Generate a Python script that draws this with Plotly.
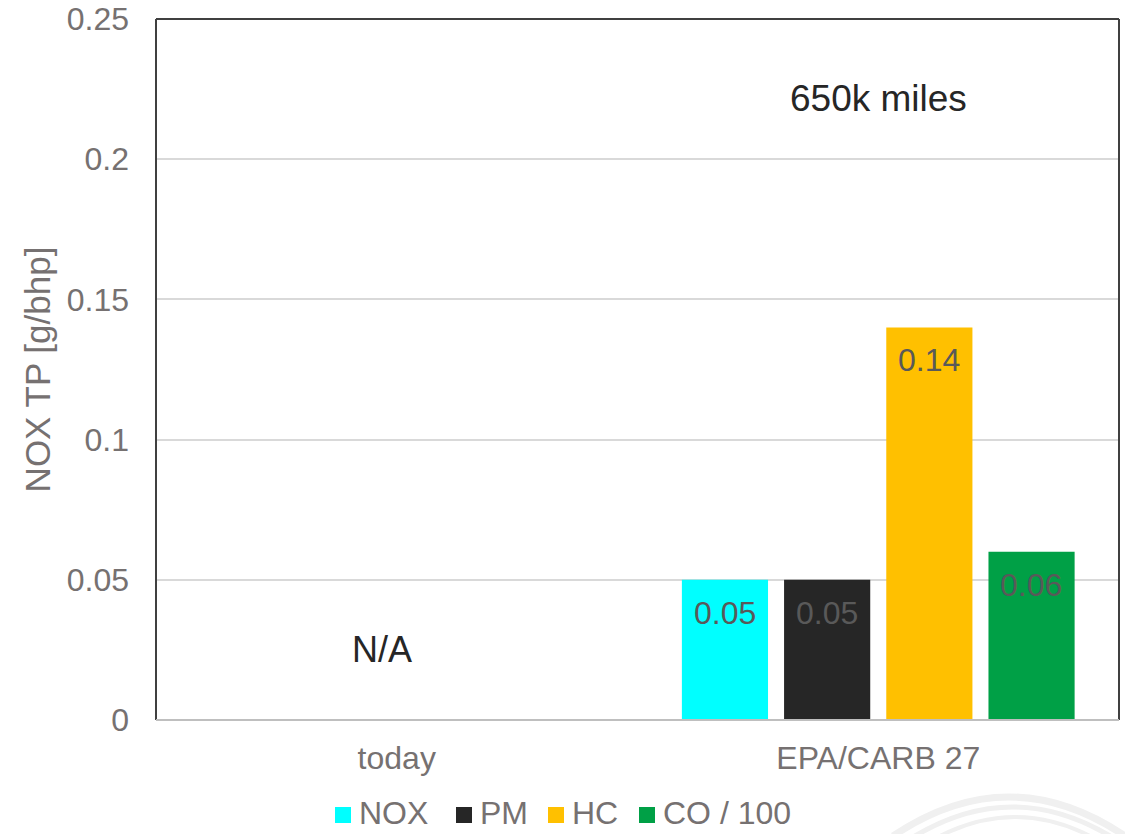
import plotly.graph_objects as go

# Emission limits per pollutant (CO is shown scaled by 1/100)
categories = ["today", "EPA/CARB 27"]
series_names = ["NOX", "PM", "HC", "CO / 100"]
nox = [None, 0.05]
pm = [None, 0.05]
hc = [None, 0.14]
co_scaled = [None, 0.06]
series_values = [nox, pm, hc, co_scaled]
colors = ["#00FFFF", "#262626", "#FFC000", "#00A046"]
y_ticks = [0, 0.05, 0.1, 0.15, 0.2, 0.25]
y_tick_text = ["0", "0.05", "0.1", "0.15", "0.2", "0.25"]

FONT = "Liberation Sans, Arial, sans-serif"
GRAY = "#767171"
LABEL = "#595959"

W, H = 1125, 834
ML, MR, MT, MB = 156, 6, 19, 114
PW, PH = W - ML - MR, H - MT - MB


def px(xp):
    return (xp - ML) / PW


def py(yp):
    return (H - MB - yp) / PH


fig = go.Figure()
for name, vals, col in zip(series_names, series_values, colors):
    fig.add_trace(go.Bar(
        x=categories, y=vals, name=name,
        marker=dict(color=col, line=dict(width=0)),
        offsetgroup=name, showlegend=False,
    ))

# Value labels just inside the top of each bar
annotations = []
n = len(series_names)
for i, vals in enumerate(series_values):
    for j, v in enumerate(vals):
        if v is None:
            continue
        annotations.append(dict(
            x=j, y=v, xref="x", yref="y",
            text=f"{v:g}", showarrow=False,
            xshift=(i - (n - 1) / 2) * 102,
            yanchor="top", yshift=-13,
            font=dict(family=FONT, size=32, color=LABEL),
        ))

annotations.append(dict(
    x=0, y=0.025, xref="x", yref="y", text="N/A", showarrow=False,
    xshift=-15,
    font=dict(family=FONT, size=36, color="#262626"),
))
annotations.append(dict(
    x=1, y=0.2215, xref="x", yref="y", text="650k miles", showarrow=False,
    font=dict(family=FONT, size=37, color="#262626"),
))

# Frame around the plot area: dark on three sides, light axis line at the bottom
shapes = [
    dict(type="line", xref="paper", yref="paper", x0=0, x1=0, y0=0, y1=1,
         line=dict(color="#404040", width=2)),
    dict(type="line", xref="paper", yref="paper", x0=0, x1=1, y0=1, y1=1,
         line=dict(color="#404040", width=2)),
    dict(type="line", xref="paper", yref="paper", x0=1, x1=1, y0=0, y1=1,
         line=dict(color="#404040", width=2)),
    dict(type="line", xref="paper", yref="paper", x0=0, x1=1, y0=0, y1=0,
         line=dict(color="#BFBFBF", width=2)),
]

# Legend row below the axis: colour square followed by the series name
legend_left = [335, 456, 548, 639]
legend_y = 813
for name, col, xl in zip(series_names, colors, legend_left):
    shapes.append(dict(
        type="rect", xref="paper", yref="paper",
        x0=px(xl), x1=px(xl + 16), y0=py(legend_y + 10), y1=py(legend_y - 6),
        fillcolor=col, line=dict(width=0),
    ))
    annotations.append(dict(
        x=px(xl + 22), y=py(legend_y), xref="paper", yref="paper",
        xanchor="left", yanchor="middle", text=name, showarrow=False,
        font=dict(family=FONT, size=32, color=GRAY),
    ))

# Faint emblem arcs in the lower right corner
for peak, x0, x1, wdt in [(797, 893, 1125, 7), (807, 915, 1110, 5), (817, 940, 1090, 4)]:
    ctrl = 2 * peak - (H + 2)
    xm = (x0 + x1) / 2
    shapes.append(dict(
        type="path", xref="paper", yref="paper", layer="below",
        path=f"M {px(x0)},{py(H + 2)} Q {px(xm)},{py(ctrl)} {px(x1)},{py(H + 2)}",
        line=dict(color="#F0F0F0", width=wdt),
    ))

fig.update_layout(
    width=W, height=H,
    margin=dict(l=ML, r=MR, t=MT, b=MB),
    paper_bgcolor="white", plot_bgcolor="white",
    barmode="group", bargap=0.151, bargroupgap=0.157,
    font=dict(family=FONT, size=32, color=GRAY),
    showlegend=False,
    annotations=annotations,
    shapes=shapes,
)
fig.update_xaxes(
    type="category", showgrid=False, showline=False, zeroline=False,
    ticks="", ticklabelstandoff=16, automargin=False,
    tickfont=dict(family=FONT, size=32, color=GRAY),
)
fig.update_yaxes(
    range=[0, 0.25], tickvals=y_ticks, ticktext=y_tick_text,
    showgrid=True, gridcolor="#D9D9D9", gridwidth=1.5,
    zeroline=False, showline=False, ticks="", ticklabelstandoff=26,
    automargin=False,
    tickfont=dict(family=FONT, size=32, color=GRAY),
    title=dict(text="NOX TP [g/bhp]", standoff=5,
               font=dict(family=FONT, size=35, color=GRAY)),
)

fig.write_html("out.html")
